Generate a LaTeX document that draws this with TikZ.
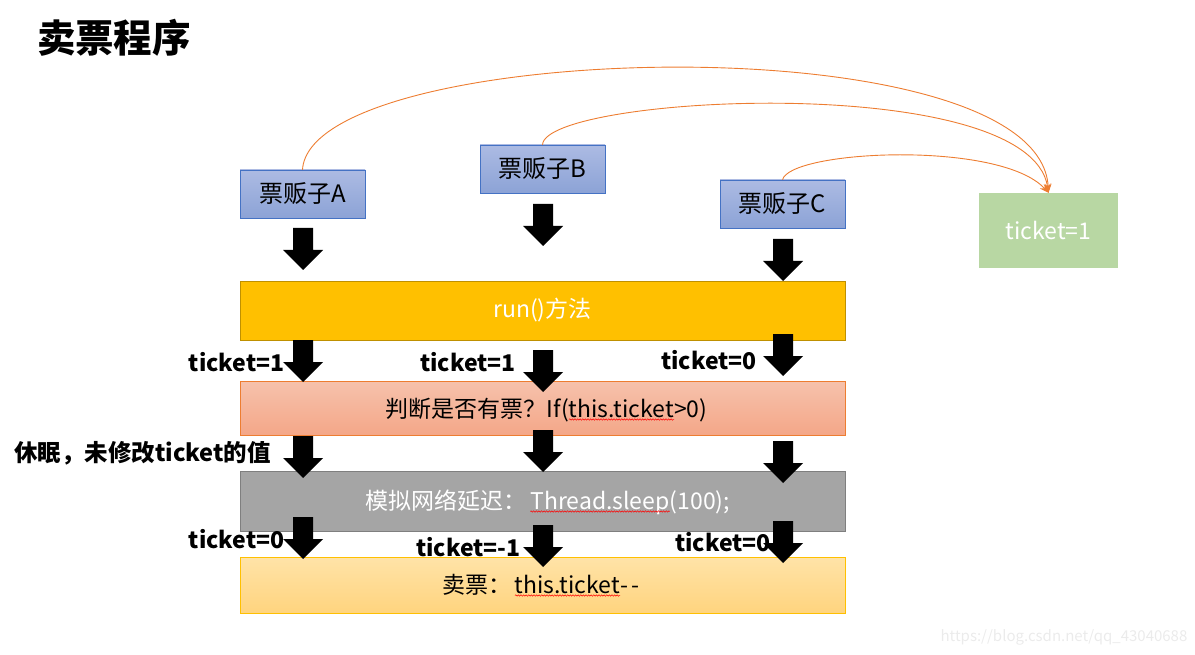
\documentclass[tikz,border=0pt]{standalone}
\usepackage{fontspec}
\setmainfont{Noto Sans CJK SC}
\usepackage{tikz}
\usetikzlibrary{arrows.meta,decorations.pathmorphing}

\definecolor{sellerTop}{RGB}{172,187,227}
\definecolor{sellerBot}{RGB}{140,163,214}
\definecolor{sellerLine}{RGB}{68,114,196}
\definecolor{runFill}{RGB}{255,192,0}
\definecolor{runLine}{RGB}{191,144,0}
\definecolor{checkTop}{RGB}{246,194,172}
\definecolor{checkBot}{RGB}{244,167,136}
\definecolor{checkLine}{RGB}{237,125,49}
\definecolor{delayFill}{RGB}{165,165,165}
\definecolor{delayLine}{RGB}{127,127,127}
\definecolor{sellTop}{RGB}{255,227,168}
\definecolor{sellBot}{RGB}{255,212,126}
\definecolor{sellLine}{RGB}{255,192,0}
\definecolor{ticketFill}{RGB}{184,215,163}
\definecolor{curveCol}{RGB}{237,125,49}

\begin{document}
\begin{tikzpicture}[x=1pt, y=-1pt,
    seller/.style={draw=sellerLine, top color=sellerTop, bottom color=sellerBot,
        minimum width=125pt, minimum height=48pt, inner sep=0pt,
        font=\fontsize{24}{28}\selectfont},
    stage/.style={minimum width=605pt, inner sep=0pt, font=\fontsize{23}{28}\selectfont},
    stagetext/.style={inner sep=0pt, outer sep=0pt, font=\fontsize{23}{28}\selectfont},
    note/.style={inner sep=0pt, font=\fontsize{23}{28}\selectfont\bfseries},
    wave/.style={draw=red, line width=0.5pt, decorate,
        decoration={snake, amplitude=0.7pt, segment length=2.6pt}},
    curve/.style={draw=curveCol, line width=0.9pt, -{Stealth[length=9pt,width=7pt]}},
    blockarrow/.pic={\fill[black] (-10,0) -- (10,0) -- (10,22) -- (20,22) -- (0,42)
        -- (-20,22) -- (-10,22) -- cycle;}]

    \useasboundingbox (0,0) rectangle (1195,655);

    % --- Title ---
    \node[font=\fontsize{38.5}{44}\selectfont\bfseries] (title) at (114,38) {卖票程序};

    % --- Ticket sellers ---
    \node[seller] (sellerA) at (302.5,194) {票贩子A};
    \node[seller] (sellerB) at (542.5,169) {票贩子B};
    \node[seller] (sellerC) at (782.5,204) {票贩子C};

    % Shared ticket count
    \node[fill=ticketFill, minimum width=139pt, minimum height=75pt, inner sep=0pt,
        text=white, font=\fontsize{23}{28}\selectfont] (ticket) at (1048.5,230.5) {ticket=1};

    % --- Program stages ---
    \node[stage, draw=runLine, fill=runFill, minimum height=59pt, text=white]
        (run) at (542.5,310.5) {run()方法};
    \node[stage, draw=checkLine, top color=checkTop, bottom color=checkBot, minimum height=54pt]
        (check) at (542.5,408) {};
    \node[stage, draw=delayLine, fill=delayFill, minimum height=60pt]
        (delay) at (542.5,501) {};
    \node[stage, draw=sellLine, top color=sellTop, bottom color=sellBot, minimum height=56pt]
        (sell) at (542.5,585) {};

    % stage texts, code words split off for the spell-check wave
    \node[stagetext, anchor=base] (checkCode) at (621.5,417) {this.ticket};
    \node[stagetext, anchor=base east] (checkPre) at (checkCode.base west) {判断是否有票？If(};
    \node[stagetext, anchor=base west] (checkPost) at (checkCode.base east) {>0)};

    \node[stagetext, text=white, anchor=base] (delayCode) at (600,509) {Thread.sleep};
    \node[stagetext, text=white, anchor=base east] (delayPre) at (delayCode.base west) {模拟网络延迟：\,};
    \node[stagetext, text=white, anchor=base west] (delayPost) at (delayCode.base east) {(100);};

    \node[stagetext, anchor=base] (sellCode) at (567.5,593) {this.ticket};
    \node[stagetext, anchor=base east] (sellPre) at (sellCode.base west) {卖票：\,};
    \node[stagetext, anchor=base west] (sellPost) at (sellCode.base east) {-\,-};

    \foreach \w in {checkCode, delayCode, sellCode}
        \draw[wave] ([yshift=-2.5pt]\w.base west) -- ([yshift=-2.5pt]\w.base east);

    % --- Side notes ---
    \node[note] (noteA1) at (236.5,362) {ticket=1};
    \node[note] (noteB1) at (468,362) {ticket=1};
    \node[note] (noteC1) at (709,360) {ticket=0};
    \node[note, font=\fontsize{23.5}{28}\selectfont\bfseries] (noteA2) at (142.5,453) {休眠，未修改ticket的值};
    \node[note] (noteA3) at (236.5,539) {ticket=0};
    \node[note] (noteB3) at (468.5,547) {ticket=-1};
    \node[note] (noteC3) at (723,542) {ticket=0};

    % --- Block arrows ---
    \foreach \x/\y in {303/228, 543/204, 783/239,
                       303/340, 543/350, 783/334,
                       303/436, 543/430, 783/441,
                       303/517, 543/525, 783/521}
        \pic at (\x,\y) {blockarrow};

    % --- Reads of the shared count ---
    \draw[curve] (sellerA.north) .. controls (310,40) and (1040,20) .. (ticket.north);
    \draw[curve] (sellerB.north) .. controls (545,95) and (1030,70) .. (ticket.north);
    \draw[curve] (sellerC.north) .. controls (790,150) and (1000,140) .. (ticket.north);

    % watermark
    \node[text=black!8, font=\fontsize{15}{18}\selectfont] (mark) at (1064,637)
        {https://blog.csdn.net/qq\_43040688};

\end{tikzpicture}
\end{document}
